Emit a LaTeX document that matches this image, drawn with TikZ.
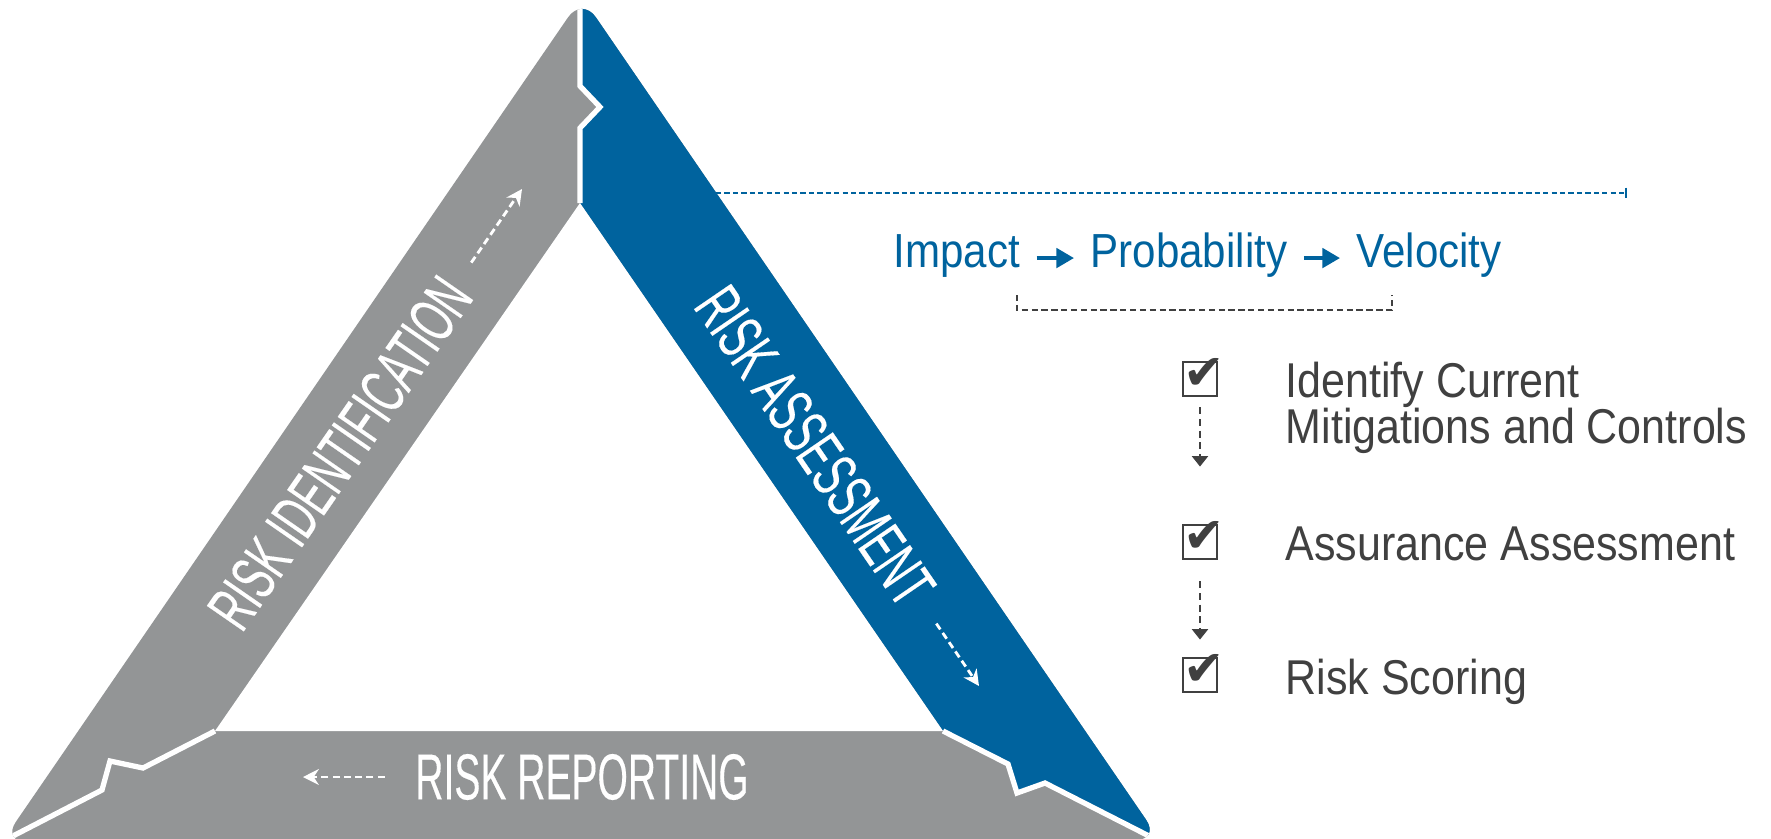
\documentclass[tikz,border=0pt]{standalone}
\usepackage{fontspec}
\setmainfont{Liberation Sans}
\newfontfamily\bandfont[FakeStretch=0.6, FakeBold=0.2]{Liberation Sans}
\newfontfamily\listfont[FakeStretch=0.88]{Liberation Sans}
\newfontfamily\symfont{DejaVu Sans}
\usetikzlibrary{arrows.meta}

\definecolor{riskgray}{RGB}{147,149,150}
\definecolor{riskblue}{RGB}{0,99,158}
\definecolor{inkgray}{RGB}{64,64,64}

\tikzset{
  band label/.style={text=white, inner sep=0pt, font=\bandfont\fontsize{18.5}{20}\selectfont},
  band arrow/.style={white, line width=0.8pt, dash pattern=on 2pt off 1.2pt, -{Stealth[length=4.5pt, width=4.5pt]}},
  gap/.style={white, line width=1.5pt, line join=miter},
  flow label/.style={text=riskblue, inner sep=0pt, anchor=base west, text height=0.72em, text depth=0.21em,
    font=\listfont\fontsize{13.6}{16}\selectfont},
  flow arrow/.style={riskblue, line width=1.1pt, -{Triangle[length=5pt, width=5.5pt]}, shorten <=0.16cm, shorten >=0.16cm},
  item label/.style={text=inkgray, inner sep=0pt, anchor=north west, align=left,
    font=\listfont\fontsize{13.9}{13.2}\selectfont},
  check box/.style={draw=inkgray, line width=0.8pt, minimum size=0.34cm, inner sep=0pt, text=inkgray,
    text height=0.2cm, text depth=0pt, font=\symfont\fontsize{14}{14}\selectfont},
  list arrow/.style={inkgray, line width=0.6pt, dash pattern=on 2pt off 1.3pt, -{Triangle[length=3pt, width=4.6pt]}},
}

\begin{document}
\begin{tikzpicture}[x=0.01cm, y=-0.01cm]
\useasboundingbox (0,0) rectangle (1771,838);

% Corners of the triangle
\coordinate (top) at (582,-3);
\coordinate (left) at (2,842);
\coordinate (right) at (1160,840);
\coordinate (in top) at (580,203);
\coordinate (in left) at (215,731);
\coordinate (in right) at (943,731);

% The three bands, with the white gaps and tabs between them
\begin{scope}
  \clip [rounded corners=7pt] (top) -- (left) -- (right) -- cycle;
  \fill [riskgray] (-20,-20) rectangle (1250,860);
  \fill [riskblue] (580,-20) -- (580,86) -- (600,107) -- (580,128) -- (in top) -- (in right)
    -- (1008,764) -- (1017,793) -- (1045,783) -- (1200,862) -- (1250,862) -- (1250,-20) -- cycle;
  \fill [white] (in top) -- (in left) -- (in right) -- cycle;
  \draw [gap] (580,-20) -- (580,86) -- (600,107) -- (580,128) -- (in top);
  \draw [gap] (in left) -- (143,768) -- (110,761) -- (102,790) -- (-20,853);
  \draw [gap] (in right) -- (1008,764) -- (1017,793) -- (1045,783) -- (1200,862);
\end{scope}

% Band labels and their arrows
\node [band label, rotate=55.3] (ident) at (340,453) {RISK IDENTIFICATION};
\node [band label, rotate=-55.6] (assess) at (815,446) {RISK ASSESSMENT};
\node [band label] (report) at (582,777) {RISK REPORTING};
\coordinate (ident head) at (522,189);
\coordinate (assess head) at (979,686);
\coordinate (report head) at (303,777);
\draw [band arrow, shorten <=0.26cm] (ident) -- (ident head);
\draw [band arrow, shorten <=0.3cm] (assess) -- (assess head);
\draw [band arrow, shorten <=0.3cm] (report) -- (report head);

% Dashed guide line and bracket
\coordinate (guide start) at (716,193);
\coordinate (guide end) at (1627,193);
\draw [riskblue, line width=0.7pt, dash pattern=on 1.5pt off 0.9pt, -{Bar[width=3pt]}] (guide start) -- (guide end);
\coordinate (brace left) at (1017,295);
\coordinate (brace right) at (1392,295);
\draw [inkgray, line width=0.5pt, dash pattern=on 1.8pt off 1pt]
  (brace left) -- ++(0,15) -| (brace right);

% Impact -> Probability -> Velocity
\node [flow label] (impact) at (893,267) {Impact};
\node [flow label] (prob) at (1090,267) {Probability};
\node [flow label] (velo) at (1356,267) {Velocity};
\draw [flow arrow] (impact) -- (prob);
\draw [flow arrow] (prob) -- (velo);

% Check list
\foreach \n/\y in {1/379, 2/542, 3/675} {
  \node [check box] (box\n) at (1200,\y) {\makebox[0pt]{\hspace{2.5pt}✔}};
}
\node [item label] (item1) at (1285,361) {Identify Current\\Mitigations and Controls};
\node [item label] (item2) at (1285,526) {Assurance Assessment};
\node [item label] (item3) at (1285,658) {Risk Scoring};
\draw [list arrow, shorten <=0.1cm, shorten >=0.57cm] (box1) -- (box2);
\draw [list arrow, shorten <=0.21cm, shorten >=0.17cm] (box2) -- (box3);

\end{tikzpicture}
\end{document}
